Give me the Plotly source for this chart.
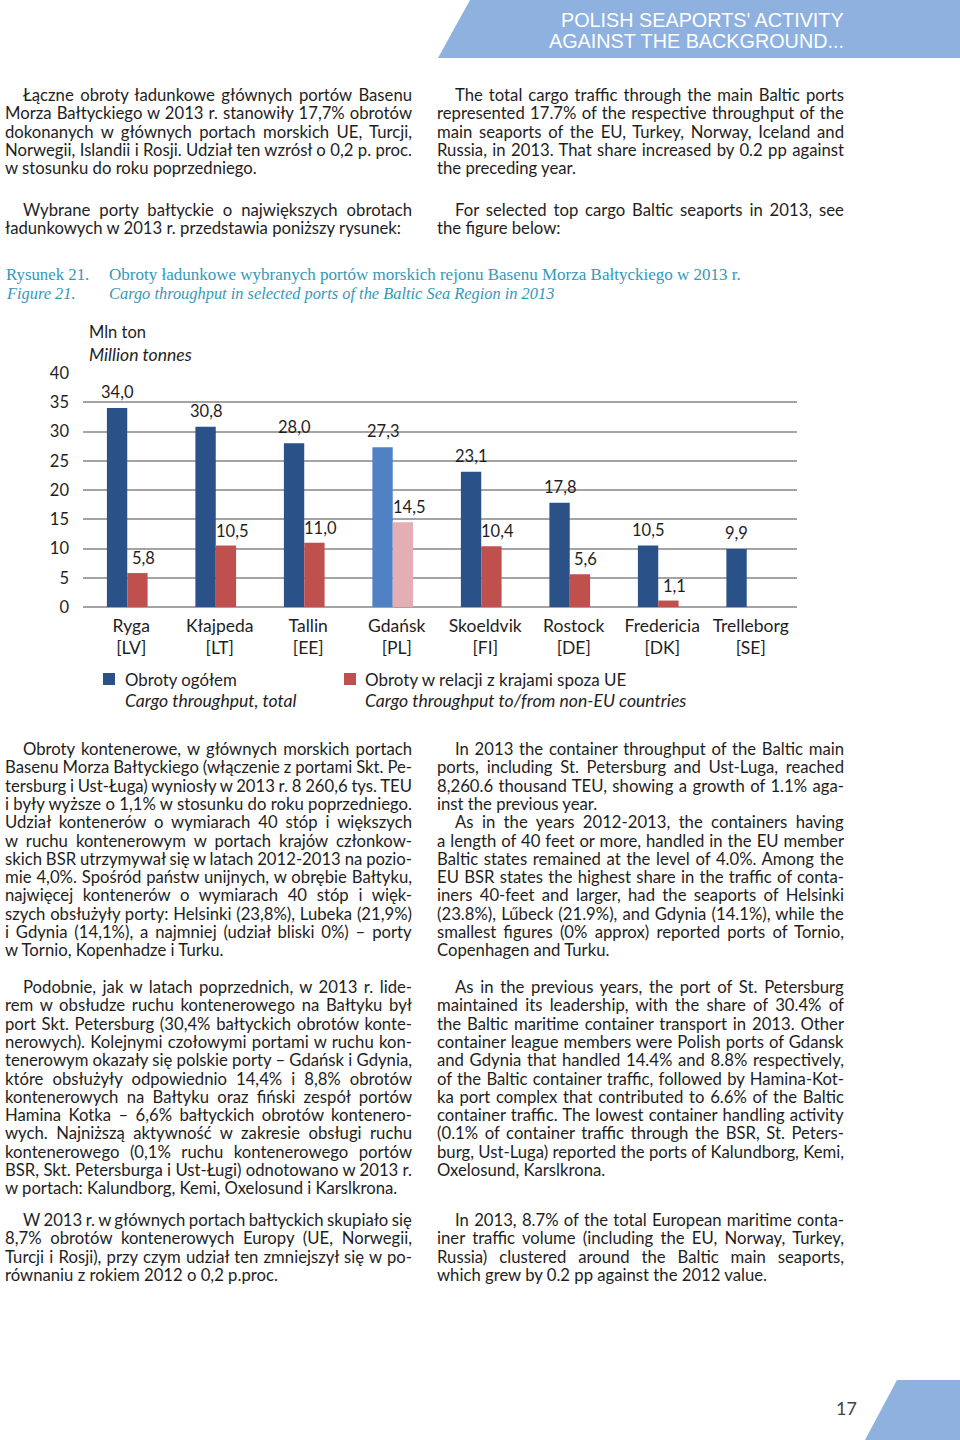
import json
import plotly.graph_objects as go

# ---------------- data ----------------
ports = ["Ryga", "Kłajpeda", "Tallin", "Gdańsk", "Skoeldvik", "Rostock", "Fredericia", "Trelleborg"]
countries = ["LV", "LT", "EE", "PL", "FI", "DE", "DK", "SE"]
total = [34.0, 30.8, 28.0, 27.3, 23.1, 17.8, 10.5, 9.9]
non_eu = [5.8, 10.5, 11.0, 14.5, 10.4, 5.6, 1.1, None]
y_ticks = [0, 5, 10, 15, 20, 25, 30, 35, 40]

W, H = 960, 1440
BODY_FONT = "Lato"
BODY_SIZE = 16.7
TEXT_COL = "#1e1e1e"
BLUE = "#2B5189"
RED = "#C0504D"
BLUE_L = "#4F81C4"
RED_L = "#E4AFB4"
HEAD = "#8EB1DF"
TEAL = "#3399B8"


def px(x):
    return x / W


def py(y):
    return 1 - y / H


def fmt(v):
    return "" if v is None else f"{v:.1f}".replace(".", ",")


fig = go.Figure()

blue_cols = [BLUE_L if p == "Gdańsk" else BLUE for p in ports]
red_cols = [RED_L if p == "Gdańsk" else RED for p in ports]

fig.add_trace(go.Bar(
    x=ports, y=total, marker=dict(color=blue_cols, line=dict(width=0)),
    name="Obroty ogółem", showlegend=False, hoverinfo="x+y"))
fig.add_trace(go.Bar(
    x=ports, y=non_eu, marker=dict(color=red_cols, line=dict(width=0)),
    name="Obroty w relacji z krajami spoza UE", showlegend=False, hoverinfo="x+y"))

fig.update_layout(
    width=W, height=H, margin=dict(l=0, r=0, t=0, b=0, pad=0, autoexpand=False),
    paper_bgcolor="white", plot_bgcolor="white",
    barmode="group", bargap=0.54, bargroupgap=0,
    xaxis=dict(domain=[px(83), px(797)], range=[-0.5, 7.568], showgrid=False,
               showline=False, zeroline=False, automargin=False,
               tickmode="array", tickvals=ports,
               ticktext=[f"{p}<br>[{c}]" for p, c in zip(ports, countries)],
               tickfont=dict(family=BODY_FONT, size=17.5, color=TEXT_COL), ticks="",
               ticklabelstandoff=6, ticklabelshift=4),
    yaxis=dict(domain=[py(607), py(373)], range=[0, 40], tickvals=y_ticks,
               showgrid=True, gridcolor="#A4A4A4", gridwidth=1.6,
               zeroline=True, zerolinecolor="#A4A4A4", zerolinewidth=1.6,
               showline=False, ticks="", ticklabelstandoff=13, automargin=False,
               tickfont=dict(family=BODY_FONT, size=16.5, color=TEXT_COL)),
)

shapes = []
# header banner
shapes.append(dict(type="path", xref="paper", yref="paper",
                   path=f"M {px(470)},{py(0)} L {px(960)},{py(0)} L {px(960)},{py(58)} L {px(438)},{py(58)} Z",
                   fillcolor=HEAD, line=dict(width=0), layer="below"))
# footer corner
shapes.append(dict(type="path", xref="paper", yref="paper",
                   path=f"M {px(897)},{py(1380)} L {px(960)},{py(1380)} L {px(960)},{py(1440)} L {px(865)},{py(1440)} Z",
                   fillcolor=HEAD, line=dict(width=0), layer="below"))
# legend squares
for x0, col in [(103, BLUE), (344, RED)]:
    shapes.append(dict(type="rect", xref="paper", yref="paper",
                       x0=px(x0), x1=px(x0 + 12), y0=py(685), y1=py(673),
                       fillcolor=col, line=dict(width=0)))
fig.update_layout(shapes=shapes)

ann = []
justify = []  # (annotation index, target right edge in px)

# data labels (placed through the axes' own scales)
BW = 0.115
for i, v in enumerate(total):
    ann.append(dict(x=i - BW, y=v, xref="x", yref="y", text=fmt(v), showarrow=False,
                    xanchor="center", yanchor="middle", yshift=16,
                    font=dict(family=BODY_FONT, size=16.5, color=TEXT_COL)))
for i, v in enumerate(non_eu):
    if v is None:
        continue
    ann.append(dict(x=i + BW, y=v, xref="x", yref="y", text=fmt(v), showarrow=False,
                    xanchor="center", yanchor="middle", yshift=15, xshift=6,
                    font=dict(family=BODY_FONT, size=16.5, color=TEXT_COL)))


def txt(x, y, s, size=BODY_SIZE, color=TEXT_COL, family=BODY_FONT, italic=False, anchor="left"):
    if italic:
        s = f"<i>{s}</i>"
    ann.append(dict(x=px(x), y=py(y), xref="paper", yref="paper", text=s,
                    showarrow=False, xanchor=anchor, yanchor="middle", align=anchor,
                    font=dict(family=family, size=size, color=color)))
    return len(ann) - 1


# header text
txt(846, 20, "POLISH SEAPORTS' ACTIVITY", size=19.8, color="white", family="Liberation Sans", anchor="right")
txt(846, 41, "AGAINST THE BACKGROUND...", size=19.8, color="white", family="Liberation Sans", anchor="right")

LH = 18.3
left_top = [
    ("Łączne obroty ładunkowe głównych portów Basenu", True),
    ("Morza Bałtyckiego w 2013 r. stanowiły 17,7% obrotów", False),
    ("dokonanych w głównych portach morskich UE, Turcji,", False),
    ("Norwegii, Islandii i Rosji. Udział ten wzrósł o 0,2 p. proc.", False),
    ("w stosunku do roku poprzedniego.", False),
]
left_top2 = [
    ("Wybrane porty bałtyckie o największych obrotach", True),
    ("ładunkowych w 2013 r. przedstawia poniższy rysunek:", False),
]
right_top = [
    ("The total cargo traffic through the main Baltic ports", True),
    ("represented 17.7% of the respective throughput of the", False),
    ("main seaports of the EU, Turkey, Norway, Iceland and", False),
    ("Russia, in 2013. That share increased by 0.2 pp against", False),
    ("the preceding year.", False),
]
right_top2 = [
    ("For selected top cargo Baltic seaports in 2013, see", True),
    ("the figure below:", False),
]
left_b1 = [
    ("Obroty kontenerowe, w głównych morskich portach", True),
    ("Basenu Morza Bałtyckiego (włączenie z portami Skt. Pe-", False),
    ("tersburg i Ust-Ługa) wyniosły w 2013 r. 8 260,6 tys. TEU", False),
    ("i były wyższe o 1,1% w stosunku do roku poprzedniego.", False),
    ("Udział kontenerów o wymiarach 40 stóp i większych", False),
    ("w ruchu kontenerowym w portach krajów członkow-", False),
    ("skich BSR utrzymywał się w latach 2012-2013 na pozio-", False),
    ("mie 4,0%. Spośród państw unijnych, w obrębie Bałtyku,", False),
    ("najwięcej kontenerów o wymiarach 40 stóp i więk-", False),
    ("szych obsłużyły porty: Helsinki (23,8%), Lubeka (21,9%)", False),
    ("i Gdynia (14,1%), a najmniej (udział bliski 0%) – porty", False),
    ("w Tornio, Kopenhadze i Turku.", False),
]
left_b2 = [
    ("Podobnie, jak w latach poprzednich, w 2013 r. lide-", True),
    ("rem w obsłudze ruchu kontenerowego na Bałtyku był", False),
    ("port Skt. Petersburg (30,4% bałtyckich obrotów konte-", False),
    ("nerowych). Kolejnymi czołowymi portami w ruchu kon-", False),
    ("tenerowym okazały się polskie porty – Gdańsk i Gdynia,", False),
    ("które obsłużyły odpowiednio 14,4% i 8,8% obrotów", False),
    ("kontenerowych na Bałtyku oraz fiński zespół portów", False),
    ("Hamina Kotka – 6,6% bałtyckich obrotów kontenero-", False),
    ("wych. Najniższą aktywność w zakresie obsługi ruchu", False),
    ("kontenerowego (0,1% ruchu kontenerowego portów", False),
    ("BSR, Skt. Petersburga i Ust-Ługi) odnotowano w 2013 r.", False),
    ("w portach: Kalundborg, Kemi, Oxelosund i Karslkrona.", False),
]
left_b3 = [
    ("W 2013 r. w głównych portach bałtyckich skupiało się", True),
    ("8,7% obrotów kontenerowych Europy (UE, Norwegii,", False),
    ("Turcji i Rosji), przy czym udział ten zmniejszył się w po-", False),
    ("równaniu z rokiem 2012 o 0,2 p.proc.", False),
]
right_b1 = [
    ("In 2013 the container throughput of the Baltic main", True),
    ("ports, including St. Petersburg and Ust-Luga, reached", False),
    ("8,260.6 thousand TEU, showing a growth of 1.1% aga-", False),
    ("inst the previous year.", False),
    ("As in the years 2012-2013, the containers having", True),
    ("a length of 40 feet or more, handled in the EU member", False),
    ("Baltic states remained at the level of 4.0%. Among the", False),
    ("EU BSR states the highest share in the traffic of conta-", False),
    ("iners 40-feet and larger, had the seaports of Helsinki", False),
    ("(23.8%), Lűbeck (21.9%), and Gdynia (14.1%), while the", False),
    ("smallest figures (0% approx) reported ports of Tornio,", False),
    ("Copenhagen and Turku.", False),
]
right_b2 = [
    ("As in the previous years, the port of St. Petersburg", True),
    ("maintained its leadership, with the share of 30.4% of", False),
    ("the Baltic maritime container transport in 2013. Other", False),
    ("container league members were Polish ports of Gdansk", False),
    ("and Gdynia that handled 14.4% and 8.8% respectively,", False),
    ("of the Baltic container traffic, followed by Hamina-Kot-", False),
    ("ka port complex that contributed to 6.6% of the Baltic", False),
    ("container traffic. The lowest container handling activity", False),
    ("(0.1% of container traffic through the BSR, St. Peters-", False),
    ("burg, Ust-Luga) reported the ports of Kalundborg, Kemi,", False),
    ("Oxelosund, Karslkrona.", False),
]
right_b3 = [
    ("In 2013, 8.7% of the total European maritime conta-", True),
    ("iner traffic volume (including the EU, Norway, Turkey,", False),
    ("Russia) clustered around the Baltic main seaports,", False),
    ("which grew by 0.2 pp against the 2012 value.", False),
]


def para(lines, x0, y0, right, indent=18):
    for i, (s, ind) in enumerate(lines):
        idx = txt(x0 + (indent if ind else 0), y0 + i * LH, s)
        last = (i == len(lines) - 1) or lines[i + 1][1]
        if not last:
            justify.append([idx, right])


para(left_top, 3, 95, 412)
para(left_top2, 3, 210, 412)
para(right_top, 435, 95, 844)
para(right_top2, 435, 210, 844)
para(left_b1, 3, 749, 412)
para(left_b2, 3, 987, 412)
para(left_b3, 3, 1220, 412)
para(right_b1, 435, 749, 844)
para(right_b2, 435, 987, 844)
para(right_b3, 435, 1220, 844)

# caption
CAP_FONT = "Liberation Serif"
txt(4, 274, "Rysunek 21.", size=16.8, color=TEAL, family=CAP_FONT)
txt(107, 274, "Obroty ładunkowe wybranych portów morskich rejonu Basenu Morza Bałtyckiego w 2013 r.",
    size=17.0, color=TEAL, family=CAP_FONT)
txt(4, 294, "Figure 21.", size=16.4, color=TEAL, family=CAP_FONT, italic=True)
txt(107, 294, "Cargo throughput in selected ports of the Baltic Sea Region in 2013",
    size=16.4, color=TEAL, family=CAP_FONT, italic=True)

# unit labels
txt(87, 332, "Mln ton", size=16.5)
txt(87, 354, "Million tonnes", size=17.6, italic=True)

# legend texts
txt(123, 679, "Obroty ogółem", size=16.8)
txt(123, 701, "Cargo throughput, total", size=17.6, italic=True)
txt(363, 679, "Obroty w relacji z krajami spoza UE", size=17)
txt(363, 701, "Cargo throughput to/from non-EU countries", size=17.6, italic=True)

# page number
txt(834, 1408, "17", size=18, color="#444444")

fig.update_layout(annotations=ann)

js = (
    "document.body.style.margin='0';document.body.style.padding='0';"
    "document.documentElement.style.overflow='hidden';"
    "var gd=document.getElementById('{plot_id}');"
    "gd.style.position='fixed';gd.style.top='0px';gd.style.left='0px';"
    "var J=" + json.dumps(justify) + ";"
    "J.forEach(function(p){"
    " var g=gd.querySelector('g.annotation[data-index=\"'+p[0]+'\"]'); if(!g) return;"
    " var t=g.querySelector('text.annotation-text'); if(!t) return;"
    " var n=(t.textContent.match(/ /g)||[]).length; if(!n) return;"
    " var r=t.getBoundingClientRect();"
    " t.style.wordSpacing=((p[1]-r.right)/n)+'px';"
    "});"
)

fig.write_html("out.html", config={"displayModeBar": False}, post_script=js)
